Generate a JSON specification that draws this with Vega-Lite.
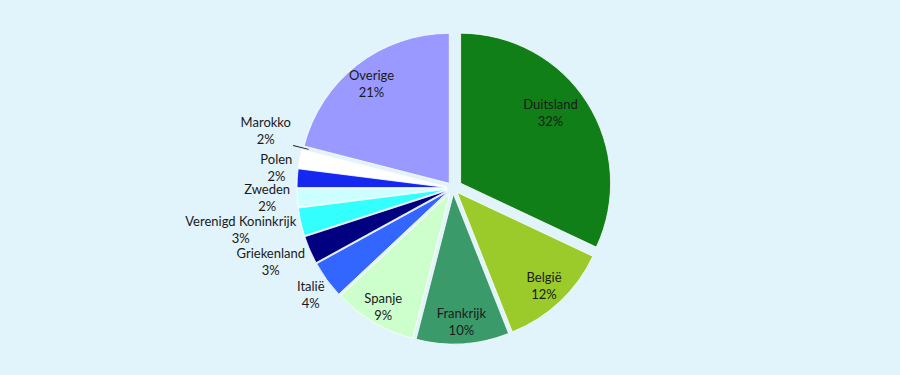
{
  "$schema": "https://vega.github.io/schema/vega-lite/v6.json",
  "width": 900,
  "height": 375,
  "autosize": {"type": "fit", "contains": "padding"},
  "padding": {"left": 6, "top": 1, "right": 0, "bottom": 0},
  "background": "#E1F3FB",
  "view": {"stroke": null},
  "config": {
    "text": {"font": "Lato", "fontSize": 13, "color": "#1a1a1a", "lineHeight": 17, "dy": -6.5},
    "arc": {"outerRadius": 150, "stroke": "#FFFFFF", "strokeWidth": 0.8}
  },
  "data": {
    "values": [
      {"i": 1, "land": "Duitsland", "pct": 32},
      {"i": 2, "land": "België", "pct": 12},
      {"i": 3, "land": "Frankrijk", "pct": 10},
      {"i": 4, "land": "Spanje", "pct": 9},
      {"i": 5, "land": "Italië", "pct": 4},
      {"i": 6, "land": "Griekenland", "pct": 3},
      {"i": 7, "land": "Verenigd Koninkrijk", "pct": 3},
      {"i": 8, "land": "Zweden", "pct": 2},
      {"i": 9, "land": "Polen", "pct": 2},
      {"i": 10, "land": "Marokko", "pct": 2},
      {"i": 11, "land": "Overige", "pct": 21}
    ]
  },
  "transform": [
    {"stack": "pct", "groupby": [], "sort": [{"field": "i", "order": "ascending"}], "as": ["v0", "v1"]},
    {"calculate": "(datum.v0 + datum.v1) / 2", "as": "mid"},
    {"calculate": "datum.land + '\\n' + datum.pct + '%'", "as": "label"}
  ],
  "encoding": {
    "color": {
      "field": "land", "type": "nominal", "legend": null,
      "scale": {
        "domain": ["Duitsland", "België", "Frankrijk", "Spanje", "Italië", "Griekenland", "Verenigd Koninkrijk", "Zweden", "Polen", "Marokko", "Overige"],
        "range": ["#117F17", "#9BCB2A", "#3A9A6A", "#CCFFCC", "#3366FF", "#000080", "#33FFFF", "#CCFFFF", "#1428F0", "#FFFFFF", "#9999FF"]
      }
    }
  },
  "layer": [
    {
      "transform": [{"filter": "datum.land === 'Duitsland'"}],
      "mark": {"type": "arc", "xOffset": 7.6, "yOffset": -4.8},
      "encoding": {"theta": {"field": "v0", "type": "quantitative", "scale": {"domain": [0, 100]}}, "theta2": {"field": "v1"}}
    },
    {
      "transform": [{"filter": "datum.land === 'België'"}],
      "mark": {"type": "arc", "xOffset": 4.1, "yOffset": 4.4},
      "encoding": {"theta": {"field": "v0", "type": "quantitative", "scale": {"domain": [0, 100]}}, "theta2": {"field": "v1"}}
    },
    {
      "transform": [{"filter": "datum.land === 'Frankrijk'"}],
      "mark": {"type": "arc", "xOffset": 0.4, "yOffset": 6.0},
      "encoding": {"theta": {"field": "v0", "type": "quantitative", "scale": {"domain": [0, 100]}}, "theta2": {"field": "v1"}}
    },
    {
      "transform": [{"filter": "datum.land === 'Spanje'"}],
      "mark": {"type": "arc", "xOffset": -3.1, "yOffset": 5.2},
      "encoding": {"theta": {"field": "v0", "type": "quantitative", "scale": {"domain": [0, 100]}}, "theta2": {"field": "v1"}}
    },
    {
      "transform": [{"filter": "datum.land === 'Italië'"}],
      "mark": {"type": "arc", "xOffset": -4.9, "yOffset": 3.5},
      "encoding": {"theta": {"field": "v0", "type": "quantitative", "scale": {"domain": [0, 100]}}, "theta2": {"field": "v1"}}
    },
    {
      "transform": [{"filter": "datum.land === 'Griekenland'"}],
      "mark": {"type": "arc", "xOffset": -5.5, "yOffset": 2.4},
      "encoding": {"theta": {"field": "v0", "type": "quantitative", "scale": {"domain": [0, 100]}}, "theta2": {"field": "v1"}}
    },
    {
      "transform": [{"filter": "datum.land === 'Verenigd Koninkrijk'"}],
      "mark": {"type": "arc", "xOffset": -5.9, "yOffset": 1.3},
      "encoding": {"theta": {"field": "v0", "type": "quantitative", "scale": {"domain": [0, 100]}}, "theta2": {"field": "v1"}}
    },
    {
      "transform": [{"filter": "datum.land === 'Zweden'"}],
      "mark": {"type": "arc", "xOffset": -6.0, "yOffset": 0.4},
      "encoding": {"theta": {"field": "v0", "type": "quantitative", "scale": {"domain": [0, 100]}}, "theta2": {"field": "v1"}}
    },
    {
      "transform": [{"filter": "datum.land === 'Polen'"}],
      "mark": {"type": "arc", "xOffset": -6.0, "yOffset": -0.4},
      "encoding": {"theta": {"field": "v0", "type": "quantitative", "scale": {"domain": [0, 100]}}, "theta2": {"field": "v1"}}
    },
    {
      "transform": [{"filter": "datum.land === 'Marokko'"}],
      "mark": {"type": "arc", "xOffset": -5.9, "yOffset": -1.1},
      "encoding": {"theta": {"field": "v0", "type": "quantitative", "scale": {"domain": [0, 100]}}, "theta2": {"field": "v1"}}
    },
    {
      "transform": [{"filter": "datum.land === 'Overige'"}],
      "mark": {"type": "arc", "xOffset": -3.7, "yOffset": -4.7},
      "encoding": {"theta": {"field": "v0", "type": "quantitative", "scale": {"domain": [0, 100]}}, "theta2": {"field": "v1"}}
    },
    {
      "transform": [{"filter": "datum.land === 'Marokko'"}],
      "mark": {"type": "arc", "outerRadius": 163, "innerRadius": 147, "thetaOffset": 0.06, "theta2Offset": 0.066, "strokeWidth": 0, "xOffset": -2, "yOffset": -2},
      "encoding": {
        "theta": {"field": "mid", "type": "quantitative", "scale": {"domain": [0, 100]}},
        "theta2": {"field": "mid"},
        "color": {"value": "#1a1a1a"}
      }
    },
    {
      "transform": [{"filter": "indexof(['België','Frankrijk','Overige'], datum.land) >= 0"}],
      "mark": {"type": "text", "radius": 133, "lineBreak": "\n"},
      "encoding": {"theta": {"field": "mid", "type": "quantitative", "scale": {"domain": [0, 100]}}, "text": {"field": "label"}, "color": {"value": "#1a1a1a"}}
    },
    {
      "transform": [{"filter": "datum.land === 'Spanje'"}],
      "mark": {"type": "text", "radius": 137, "lineBreak": "\n"},
      "encoding": {"theta": {"field": "mid", "type": "quantitative", "scale": {"domain": [0, 100]}}, "text": {"field": "label"}, "color": {"value": "#1a1a1a"}}
    },
    {
      "transform": [{"filter": "datum.land === 'Duitsland'"}],
      "mark": {"type": "text", "radius": 124, "thetaOffset": -0.1, "lineBreak": "\n"},
      "encoding": {"theta": {"field": "mid", "type": "quantitative", "scale": {"domain": [0, 100]}}, "text": {"field": "label"}, "color": {"value": "#1a1a1a"}}
    },
    {
      "transform": [{"filter": "datum.land === 'Italië'"}],
      "mark": {"type": "text", "radius": 177, "thetaOffset": -0.009, "lineBreak": "\n"},
      "encoding": {"theta": {"field": "mid", "type": "quantitative", "scale": {"domain": [0, 100]}}, "text": {"field": "label"}, "color": {"value": "#1a1a1a"}}
    },
    {
      "transform": [{"filter": "datum.land === 'Griekenland'"}],
      "mark": {"type": "text", "radius": 196, "thetaOffset": 0.031, "lineBreak": "\n"},
      "encoding": {"theta": {"field": "mid", "type": "quantitative", "scale": {"domain": [0, 100]}}, "text": {"field": "label"}, "color": {"value": "#1a1a1a"}}
    },
    {
      "transform": [{"filter": "datum.land === 'Verenigd Koninkrijk'"}],
      "mark": {"type": "text", "radius": 216, "thetaOffset": 0.033, "lineBreak": "\n"},
      "encoding": {"theta": {"field": "mid", "type": "quantitative", "scale": {"domain": [0, 100]}}, "text": {"field": "label"}, "color": {"value": "#1a1a1a"}}
    },
    {
      "transform": [{"filter": "datum.land === 'Zweden'"}],
      "mark": {"type": "text", "radius": 186, "thetaOffset": 0.019, "lineBreak": "\n"},
      "encoding": {"theta": {"field": "mid", "type": "quantitative", "scale": {"domain": [0, 100]}}, "text": {"field": "label"}, "color": {"value": "#1a1a1a"}}
    },
    {
      "transform": [{"filter": "datum.land === 'Polen'"}],
      "mark": {"type": "text", "radius": 178, "thetaOffset": 0.061, "lineBreak": "\n"},
      "encoding": {"theta": {"field": "mid", "type": "quantitative", "scale": {"domain": [0, 100]}}, "text": {"field": "label"}, "color": {"value": "#1a1a1a"}}
    },
    {
      "transform": [{"filter": "datum.land === 'Marokko'"}],
      "mark": {"type": "text", "radius": 196, "thetaOffset": 0.112, "lineBreak": "\n"},
      "encoding": {"theta": {"field": "mid", "type": "quantitative", "scale": {"domain": [0, 100]}}, "text": {"field": "label"}, "color": {"value": "#1a1a1a"}}
    }
  ]
}
